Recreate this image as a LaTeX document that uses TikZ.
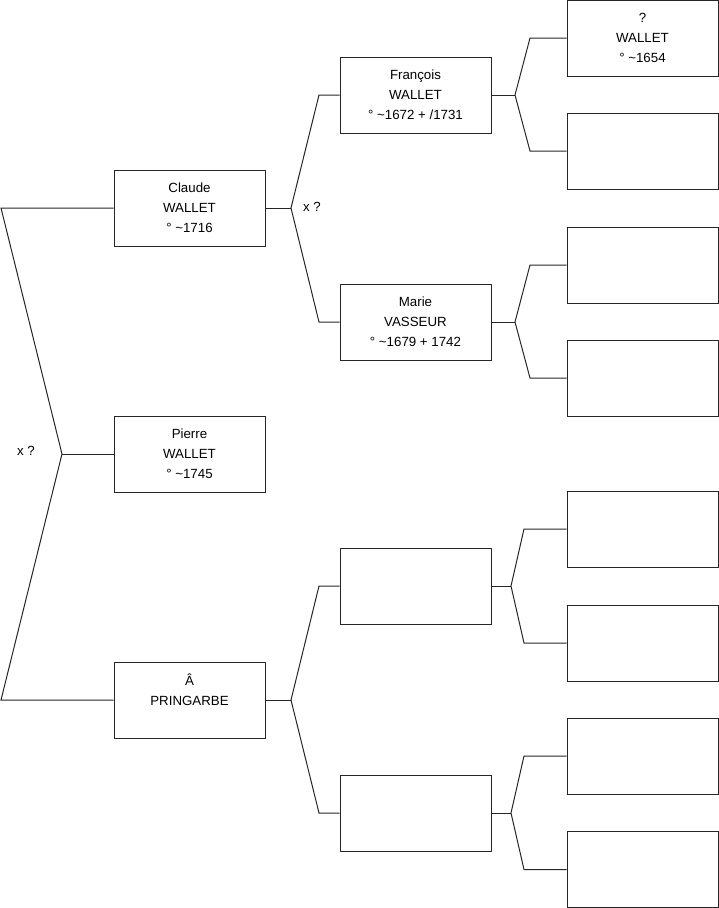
\documentclass[tikz,border=0pt]{standalone}
\usepackage{fontspec}
\setmainfont{Liberation Sans}
\usetikzlibrary{positioning}

\begin{document}
\begin{tikzpicture}[
    x=1pt, y=-1pt,
    font=\fontsize{13.3}{20}\selectfont,
    person/.style={draw=black!85, line width=1pt, minimum width=151pt,
                   minimum height=76pt, align=center, inner sep=0pt},
    link/.style={draw=black!85, line width=1pt},
    union/.style={font=\fontsize{13.3}{15}\selectfont, inner sep=1pt},
  ]
  \useasboundingbox (0,0) rectangle (719,908);

  % --- Generation 0 / 1 ---------------------------------------------------
  \node[person] (claude) at (189.5,208)
    {Claude\\WALLET\\° \textasciitilde1716};
  \node[person] (pierre) at (189.5,454)
    {Pierre\\WALLET\\° \textasciitilde1745};
  \node[person] (aprin) at (189.5,700)
    {Â\\PRINGARBE\\~};

  % --- Generation 2 -------------------------------------------------------
  \node[person] (francois) at (415.5,95)
    {François\\WALLET\\° \textasciitilde1672 + /1731};
  \node[person] (marie) at (415.5,322)
    {Marie\\VASSEUR\\° \textasciitilde1679 + 1742};
  \node[person] (pm3) at (415.5,586) {};
  \node[person] (pm4) at (415.5,813) {};

  % --- Generation 3 -------------------------------------------------------
  \node[person] (g1) at (642.5,38) {?\\WALLET\\° \textasciitilde1654};
  \node[person] (g2) at (642.5,151) {};
  \node[person] (g3) at (642.5,265) {};
  \node[person] (g4) at (642.5,378) {};
  \node[person] (g5) at (642.5,529) {};
  \node[person] (g6) at (642.5,643) {};
  \node[person] (g7) at (642.5,756) {};
  \node[person] (g8) at (642.5,869.5) {};

  % --- Union labels -------------------------------------------------------
  \node[union] (u0) at (26,451) {x ?};
  \node[union] (u1) at (312,207) {x ?};

  % --- Forks --------------------------------------------------------------
  \coordinate (f0) at (62,454);
  \coordinate (f0u) at (1,208);
  \coordinate (f0d) at (1,700);
  \coordinate (f1) at (291,208);
  \coordinate (f1u) at (319,95);
  \coordinate (f1d) at (319,322);
  \coordinate (f2) at (291,700);
  \coordinate (f2u) at (319,586);
  \coordinate (f2d) at (319,813);
  \coordinate (f3) at (515,95);
  \coordinate (f3u) at (530,38);
  \coordinate (f3d) at (530,151);
  \coordinate (f4) at (515,322);
  \coordinate (f4u) at (530,265);
  \coordinate (f4d) at (530,378);
  \coordinate (f5) at (511,586);
  \coordinate (f5u) at (524,529);
  \coordinate (f5d) at (524,643);
  \coordinate (f6) at (511,813);
  \coordinate (f6u) at (524,756);
  \coordinate (f6d) at (524,869.5);

  % --- Links --------------------------------------------------------------
  \draw[link] (pierre.west) -- (f0);
  \draw[link] (claude.west) -- (f0u) -- (f0) -- (f0d) -- (aprin.west);

  \draw[link] (claude.east) -- (f1);
  \draw[link] (francois.west) -- (f1u) -- (f1) -- (f1d) -- (marie.west);
  \draw[link] (aprin.east) -- (f2);
  \draw[link] (pm3.west) -- (f2u) -- (f2) -- (f2d) -- (pm4.west);

  \draw[link] (francois.east) -- (f3);
  \draw[link] (g1.west) -- (f3u) -- (f3) -- (f3d) -- (g2.west);
  \draw[link] (marie.east) -- (f4);
  \draw[link] (g3.west) -- (f4u) -- (f4) -- (f4d) -- (g4.west);
  \draw[link] (pm3.east) -- (f5);
  \draw[link] (g5.west) -- (f5u) -- (f5) -- (f5d) -- (g6.west);
  \draw[link] (pm4.east) -- (f6);
  \draw[link] (g7.west) -- (f6u) -- (f6) -- (f6d) -- (g8.west);

\end{tikzpicture}
\end{document}
